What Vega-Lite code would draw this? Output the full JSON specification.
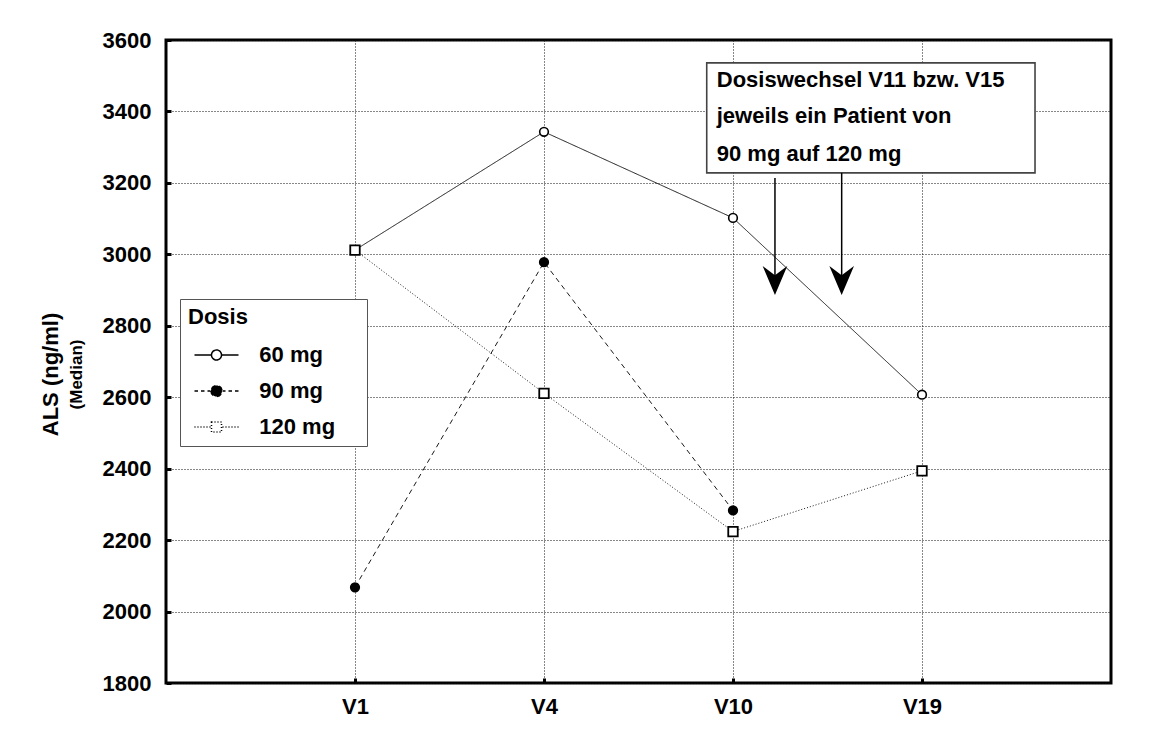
{
  "$schema": "https://vega.github.io/schema/vega-lite/v6.json",
  "width": 945,
  "height": 643,
  "autosize": {"type": "none"},
  "padding": {"left": 166, "top": 40, "right": 40, "bottom": 56},
  "background": "white",
  "title": {
    "text": "ALS (ng/ml)",
    "subtitle": "(Median)",
    "orient": "left",
    "anchor": "middle",
    "font": "Liberation Sans",
    "fontSize": 22,
    "fontWeight": "bold",
    "color": "black",
    "subtitleFont": "Liberation Sans",
    "subtitleFontSize": 17,
    "subtitleFontWeight": "bold",
    "subtitleColor": "black",
    "subtitlePadding": 6,
    "offset": 16,
    "dx": -13
  },
  "config": {
    "font": "Liberation Sans",
    "view": {"stroke": "black", "strokeWidth": 3},
    "axis": {
      "labelFont": "Liberation Sans",
      "labelFontWeight": "bold",
      "labelFontSize": 22,
      "labelColor": "black",
      "grid": true,
      "gridColor": "#111",
      "gridDash": [1, 2],
      "gridWidth": 1,
      "gridOpacity": 1,
      "domain": false,
      "tickColor": "black",
      "tickWidth": 3,
      "tickSize": -5
    },
    "legend": {
      "orient": "none",
      "legendX": 14,
      "legendY": 259,
      "strokeColor": "#555",
      "fillColor": "white",
      "padding": 8,
      "titleFont": "Liberation Sans",
      "titleFontSize": 22,
      "titleFontWeight": "bold",
      "titleColor": "black",
      "titlePadding": 15,
      "labelFont": "Liberation Sans",
      "labelFontSize": 22,
      "labelFontWeight": "bold",
      "labelColor": "black",
      "symbolSize": 400,
      "symbolOffset": 17.5,
      "labelOffset": 31.8,
      "rowPadding": 14
    }
  },
  "datasets": {
    "als": [
      {"Visite": "V1", "Dosis": "60 mg", "Wert": 3012},
      {"Visite": "V4", "Dosis": "60 mg", "Wert": 3343},
      {"Visite": "V10", "Dosis": "60 mg", "Wert": 3102},
      {"Visite": "V19", "Dosis": "60 mg", "Wert": 2607},
      {"Visite": "V1", "Dosis": "90 mg", "Wert": 2068},
      {"Visite": "V4", "Dosis": "90 mg", "Wert": 2978},
      {"Visite": "V10", "Dosis": "90 mg", "Wert": 2283},
      {"Visite": "V1", "Dosis": "120 mg", "Wert": 3012},
      {"Visite": "V4", "Dosis": "120 mg", "Wert": 2611},
      {"Visite": "V10", "Dosis": "120 mg", "Wert": 2224},
      {"Visite": "V19", "Dosis": "120 mg", "Wert": 2394}
    ],
    "box": [
      {"x1": 2.861, "x2": 4.598, "y1": 3536, "y2": 3228}
    ],
    "notiz": [
      {"x": 2.914, "y": 3469, "Text": "Dosiswechsel V11 bzw. V15"},
      {"x": 2.914, "y": 3367, "Text": "jeweils ein Patient von"},
      {"x": 2.914, "y": 3262, "Text": "90 mg auf 120 mg"}
    ],
    "pfeile": [
      {"x": 3.222, "yStart": 3214, "yEnd": 2915, "yKopf": 2927},
      {"x": 3.575, "yStart": 3228, "yEnd": 2915, "yKopf": 2927}
    ]
  },
  "layer": [
    {
      "data": {"name": "als"},
      "encoding": {
        "x": {
          "field": "Visite",
          "type": "ordinal",
          "scale": {"type": "point", "domain": ["V1", "V4", "V10", "V19"], "padding": 1},
          "axis": {"title": null, "labelAngle": 0, "labelPadding": 18}
        },
        "y": {
          "field": "Wert",
          "type": "quantitative",
          "scale": {"domain": [1800, 3600], "nice": false, "zero": false},
          "axis": {"title": null, "format": "d", "values": [1800, 2000, 2200, 2400, 2600, 2800, 3000, 3200, 3400, 3600], "labelPadding": 20}
        }
      },
      "layer": [
        {
          "transform": [{"filter": "false"}],
          "mark": {"type": "point", "filled": true, "stroke": "black", "strokeWidth": 1.4, "size": 400, "opacity": 1},
          "encoding": {
            "shape": {
              "field": "Dosis",
              "type": "nominal",
              "scale": {
                "domain": ["60 mg", "90 mg", "120 mg"],
                "range": [
                  "M-2.2,0H-0.5M0.5,0H2.2M13.9,0L13.9,0M-0.5,0A0.5,0.5,0,1,0,0.5,0A0.5,0.5,0,1,0,-0.5,0Z",
                  "M-2.2,0H-1.85M-1.55,0H-1.2M-0.9,0H-0.6M0.6,0H0.9M1.2,0H1.55M1.85,0H2.2M-0.55,0A0.55,0.55,0,1,0,0.55,0A0.55,0.55,0,1,0,-0.55,0Z",
                  "M-2.2,0H-2.1M-1.9,0H-1.8M-1.6,0H-1.5M-1.3,0H-1.2M-1,0H-0.9M-0.7,0H-0.6M0.6,0H0.7M0.9,0H1M1.2,0H1.3M1.5,0H1.6M1.8,0H1.9M2.1,0H2.2M-0.5,-0.5H0.5V0.5H-0.5Z"
                ]
              },
              "legend": {"title": "Dosis"}
            },
            "fill": {
              "field": "Dosis",
              "type": "nominal",
              "scale": {"domain": ["60 mg", "90 mg", "120 mg"], "range": ["white", "black", "white"]},
              "legend": {"title": "Dosis"}
            }
          }
        },
        {
          "mark": {"type": "line", "stroke": "#1a1a1a", "strokeWidth": 1},
          "encoding": {
            "detail": {"field": "Dosis", "type": "nominal"},
            "strokeDash": {
              "field": "Dosis",
              "type": "nominal",
              "scale": {"domain": ["60 mg", "90 mg", "120 mg"], "range": [[1, 0], [5, 4], [1, 2]]},
              "legend": null
            }
          }
        },
        {
          "transform": [{"filter": "datum.Dosis != '120 mg'"}],
          "mark": {"type": "point", "shape": "circle", "filled": true, "stroke": "black", "strokeWidth": 1.6, "size": 75, "opacity": 1},
          "encoding": {
            "fill": {"field": "Dosis", "type": "nominal", "scale": {"domain": ["60 mg", "90 mg", "120 mg"], "range": ["white", "black", "white"]}, "legend": {"title": "Dosis"}}
          }
        },
        {
          "transform": [{"filter": "datum.Dosis == '120 mg'"}],
          "mark": {"type": "point", "shape": "square", "filled": true, "stroke": "black", "strokeWidth": 1.8, "size": 90, "opacity": 1},
          "encoding": {
            "fill": {"field": "Dosis", "type": "nominal", "scale": {"domain": ["60 mg", "90 mg", "120 mg"], "range": ["white", "black", "white"]}, "legend": {"title": "Dosis"}}
          }
        }
      ]
    },
    {
      "layer": [
        {
          "data": {"name": "box"},
          "mark": {"type": "rect", "fill": "white", "stroke": "#444", "strokeWidth": 1.6},
          "encoding": {
            "x": {"field": "x1", "type": "quantitative", "scale": {"domain": [0, 5], "nice": false, "zero": false}, "axis": null},
            "x2": {"field": "x2"},
            "y": {"field": "y1", "type": "quantitative", "axis": {"title": null}},
            "y2": {"field": "y2"}
          }
        },
        {
          "data": {"name": "notiz"},
          "mark": {"type": "text", "align": "left", "baseline": "alphabetic", "font": "Liberation Sans", "fontSize": 22, "fontWeight": "bold", "color": "black"},
          "encoding": {
            "x": {"field": "x", "type": "quantitative", "axis": null},
            "y": {"field": "y", "type": "quantitative", "axis": {"title": null}},
            "text": {"field": "Text"}
          }
        },
        {
          "data": {"name": "pfeile"},
          "mark": {"type": "rule", "color": "black", "strokeWidth": 1.5},
          "encoding": {
            "x": {"field": "x", "type": "quantitative", "axis": null},
            "y": {"field": "yStart", "type": "quantitative", "axis": {"title": null}},
            "y2": {"field": "yEnd"}
          }
        },
        {
          "data": {"name": "pfeile"},
          "mark": {"type": "point", "shape": "M0,1L-0.85,-1L0,-0.35L0.85,-1Z", "filled": true, "fill": "black", "strokeWidth": 0, "size": 841, "opacity": 1},
          "encoding": {
            "x": {"field": "x", "type": "quantitative", "axis": null},
            "y": {"field": "yKopf", "type": "quantitative", "axis": {"title": null}}
          }
        }
      ]
    }
  ],
  "resolve": {"scale": {"x": "independent"}, "axis": {"x": "independent"}}
}
